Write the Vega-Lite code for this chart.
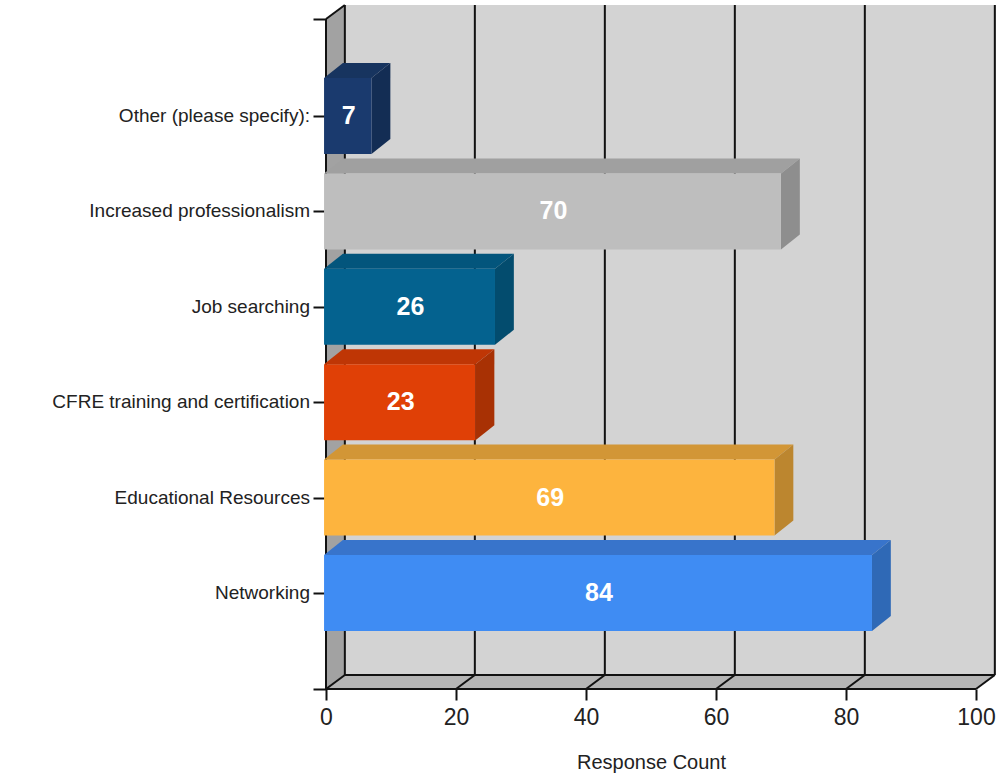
{
"$schema":"https://vega.github.io/schema/vega-lite/v6.json",
"width":670,"height":689,"autosize":"none",
"padding":{"left":326,"top":0,"right":3,"bottom":95},
"background":"#ffffff",
"config":{"view":{"stroke":null},"font":"Liberation Sans"},
"datasets":{
"bars":[
{"category":"Networking","value":84},
{"category":"Educational Resources","value":69},
{"category":"CFRE training and certification","value":23},
{"category":"Job searching","value":26},
{"category":"Increased professionalism","value":70},
{"category":"Other (please specify):","value":7}],
"grid":[{"v":0},{"v":20},{"v":40},{"v":60},{"v":80},{"v":100}],
"unit":[{"t":0},{"t":1}]
},
"layer":[
{"data":{"name":"unit"},
 "transform":[{"calculate":"datum.t*2.9","as":"x0"},{"calculate":"100+datum.t*2.9","as":"x1"},{"calculate":"datum.t*14","as":"yy"}],
 "mark":{"type":"area","orient":"horizontal","color":"#B4B4B4"},
 "encoding":{
  "x":{"field":"x0","type":"quantitative","stack":null,"scale":{"domain":[0,103.08],"nice":false,"zero":false},
   "axis":{"values":[0,20,40,60,80,100],"grid":false,"domain":false,"tickSize":11,"tickWidth":2,"tickColor":"#111111","labelFontSize":23,"labelColor":"#222222","labelPadding":6,"labelOverlap":false,"labelFlush":false,"title":"Response Count","titleFontSize":20,"titleFontWeight":"normal","titleColor":"#222222","titlePadding":23,"titleX":325,"titleAnchor":null}},
  "x2":{"field":"x1"},
  "y":{"field":"yy","type":"quantitative","stack":null,"scale":{"domain":[0,689],"nice":false,"zero":false},
   "axis":{"values":[0,96,191.4,286.8,382.2,477.6,573,670],"grid":false,"domain":false,"labels":false,"title":null,"tickSize":13,"tickWidth":2,"tickColor":"#111111"}}
 }},
{"data":{"name":"unit"},
 "transform":[{"calculate":"datum.t*2.9","as":"x0"},{"calculate":"datum.t*14","as":"y0"},{"calculate":"670+datum.t*14","as":"y1"}],
 "mark":{"type":"area","orient":"vertical","color":"#A2A2A2"},
 "encoding":{"x":{"field":"x0","type":"quantitative"},"y":{"field":"y0","type":"quantitative","stack":null},"y2":{"field":"y1"}}},
{"data":{"values":[{"a":2.9,"b":103.08,"c":14,"d":684}]},
 "mark":{"type":"rect","color":"#D3D3D3"},
 "encoding":{"x":{"field":"a","type":"quantitative"},"x2":{"field":"b"},"y":{"field":"c","type":"quantitative"},"y2":{"field":"d"}}},
{"data":{"name":"grid"},
 "transform":[{"calculate":"datum.v+2.9","as":"vb"},{"calculate":"14","as":"y0"},{"calculate":"684","as":"y1"}],
 "mark":{"type":"rule","color":"#111111","strokeWidth":2},
 "encoding":{"x":{"field":"vb","type":"quantitative"},"y":{"field":"y0","type":"quantitative"},"y2":{"field":"y1"}}},
{"data":{"name":"grid"},
 "transform":[{"calculate":"datum.v+2.9","as":"vb"},{"calculate":"0","as":"y0"},{"calculate":"14","as":"y1"}],
 "mark":{"type":"rule","color":"#111111","strokeWidth":2},
 "encoding":{"x":{"field":"v","type":"quantitative"},"x2":{"field":"vb"},"y":{"field":"y0","type":"quantitative"},"y2":{"field":"y1"}}},
{"data":{"values":[{"a":0,"b":100,"c":0,"d":0},{"a":2.9,"b":102.9,"c":14,"d":14},{"a":0,"b":0,"c":0,"d":670},{"a":0,"b":2.9,"c":670,"d":684}]},
 "mark":{"type":"rule","color":"#111111","strokeWidth":2},
 "encoding":{"x":{"field":"a","type":"quantitative"},"x2":{"field":"b"},"y":{"field":"c","type":"quantitative"},"y2":{"field":"d"}}},
{"data":{"name":"bars"},
 "transform":[{"window":[{"op":"row_number","as":"i"}]},{"calculate":"96+95.4*(datum.i-1)","as":"yc"},{"calculate":"datum.yc+38","as":"yt"},{"calculate":"datum.yc-38","as":"yb"},{"calculate":"[0,1]","as":"t"},{"flatten":["t"]},
  {"calculate":"-0.3+datum.t*2.9","as":"xa"},{"calculate":"datum.value+datum.t*2.9","as":"xb"},{"calculate":"datum.yt+datum.t*15","as":"yy"}],
 "mark":{"type":"area","orient":"horizontal"},
 "encoding":{"x":{"field":"xa","type":"quantitative","stack":null},"x2":{"field":"xb"},"y":{"field":"yy","type":"quantitative","stack":null},
  "color":{"field":"category","type":"nominal","legend":null,"scale":{"domain":["Networking","Educational Resources","CFRE training and certification","Job searching","Increased professionalism","Other (please specify):"],"range":["#3874CB","#D29636","#BF3605","#03557C","#A0A0A0","#17345F"]}}}},
{"data":{"name":"bars"},
 "transform":[{"window":[{"op":"row_number","as":"i"}]},{"calculate":"96+95.4*(datum.i-1)","as":"yc"},{"calculate":"datum.yc+38","as":"yt"},{"calculate":"datum.yc-38","as":"yb"},{"calculate":"[0,1]","as":"t"},{"flatten":["t"]},
  {"calculate":"datum.value+datum.t*2.9","as":"xb"},{"calculate":"datum.yb+datum.t*15","as":"ya"},{"calculate":"datum.yt+datum.t*15","as":"yz"}],
 "mark":{"type":"area","orient":"vertical"},
 "encoding":{"x":{"field":"xb","type":"quantitative"},"y":{"field":"ya","type":"quantitative","stack":null},"y2":{"field":"yz"},
  "color":{"field":"category","type":"nominal","legend":null,"scale":{"domain":["Networking","Educational Resources","CFRE training and certification","Job searching","Increased professionalism","Other (please specify):"],"range":["#2F69B6","#BC862F","#A83104","#034C6E","#8E8E8E","#132D54"]}}}},
{"data":{"name":"bars"},
 "transform":[{"window":[{"op":"row_number","as":"i"}]},{"calculate":"96+95.4*(datum.i-1)","as":"yc"},{"calculate":"datum.yc+38","as":"yt"},{"calculate":"datum.yc-38","as":"yb"},{"calculate":"-0.3","as":"xa"}],
 "mark":{"type":"rect"},
 "encoding":{"x":{"field":"xa","type":"quantitative"},"x2":{"field":"value"},"y":{"field":"yb","type":"quantitative"},"y2":{"field":"yt"},
  "color":{"field":"category","type":"nominal","legend":null,"scale":{"domain":["Networking","Educational Resources","CFRE training and certification","Job searching","Increased professionalism","Other (please specify):"],"range":["#3F8CF3","#FDB43E","#E04006","#04628F","#BEBEBE","#1A3A6E"]}}}},
{"data":{"name":"bars"},
 "transform":[{"window":[{"op":"row_number","as":"i"}]},{"calculate":"96+95.4*(datum.i-1)","as":"yc"},{"calculate":"datum.value/2","as":"xm"}],
 "mark":{"type":"text","color":"#ffffff","fontWeight":"bold","fontSize":25,"align":"center","baseline":"middle"},
 "encoding":{"x":{"field":"xm","type":"quantitative"},"y":{"field":"yc","type":"quantitative"},"text":{"field":"value","type":"quantitative"}}},
{"data":{"name":"bars"},
 "transform":[{"window":[{"op":"row_number","as":"i"}]},{"calculate":"96+95.4*(datum.i-1)","as":"yc"},{"calculate":"0","as":"xz"}],
 "mark":{"type":"text","color":"#222222","fontSize":19,"align":"right","baseline":"middle","xOffset":-16},
 "encoding":{"x":{"field":"xz","type":"quantitative"},"y":{"field":"yc","type":"quantitative"},"text":{"field":"category","type":"nominal"}}}
],
"resolve":{"scale":{"color":"independent"}}
}
